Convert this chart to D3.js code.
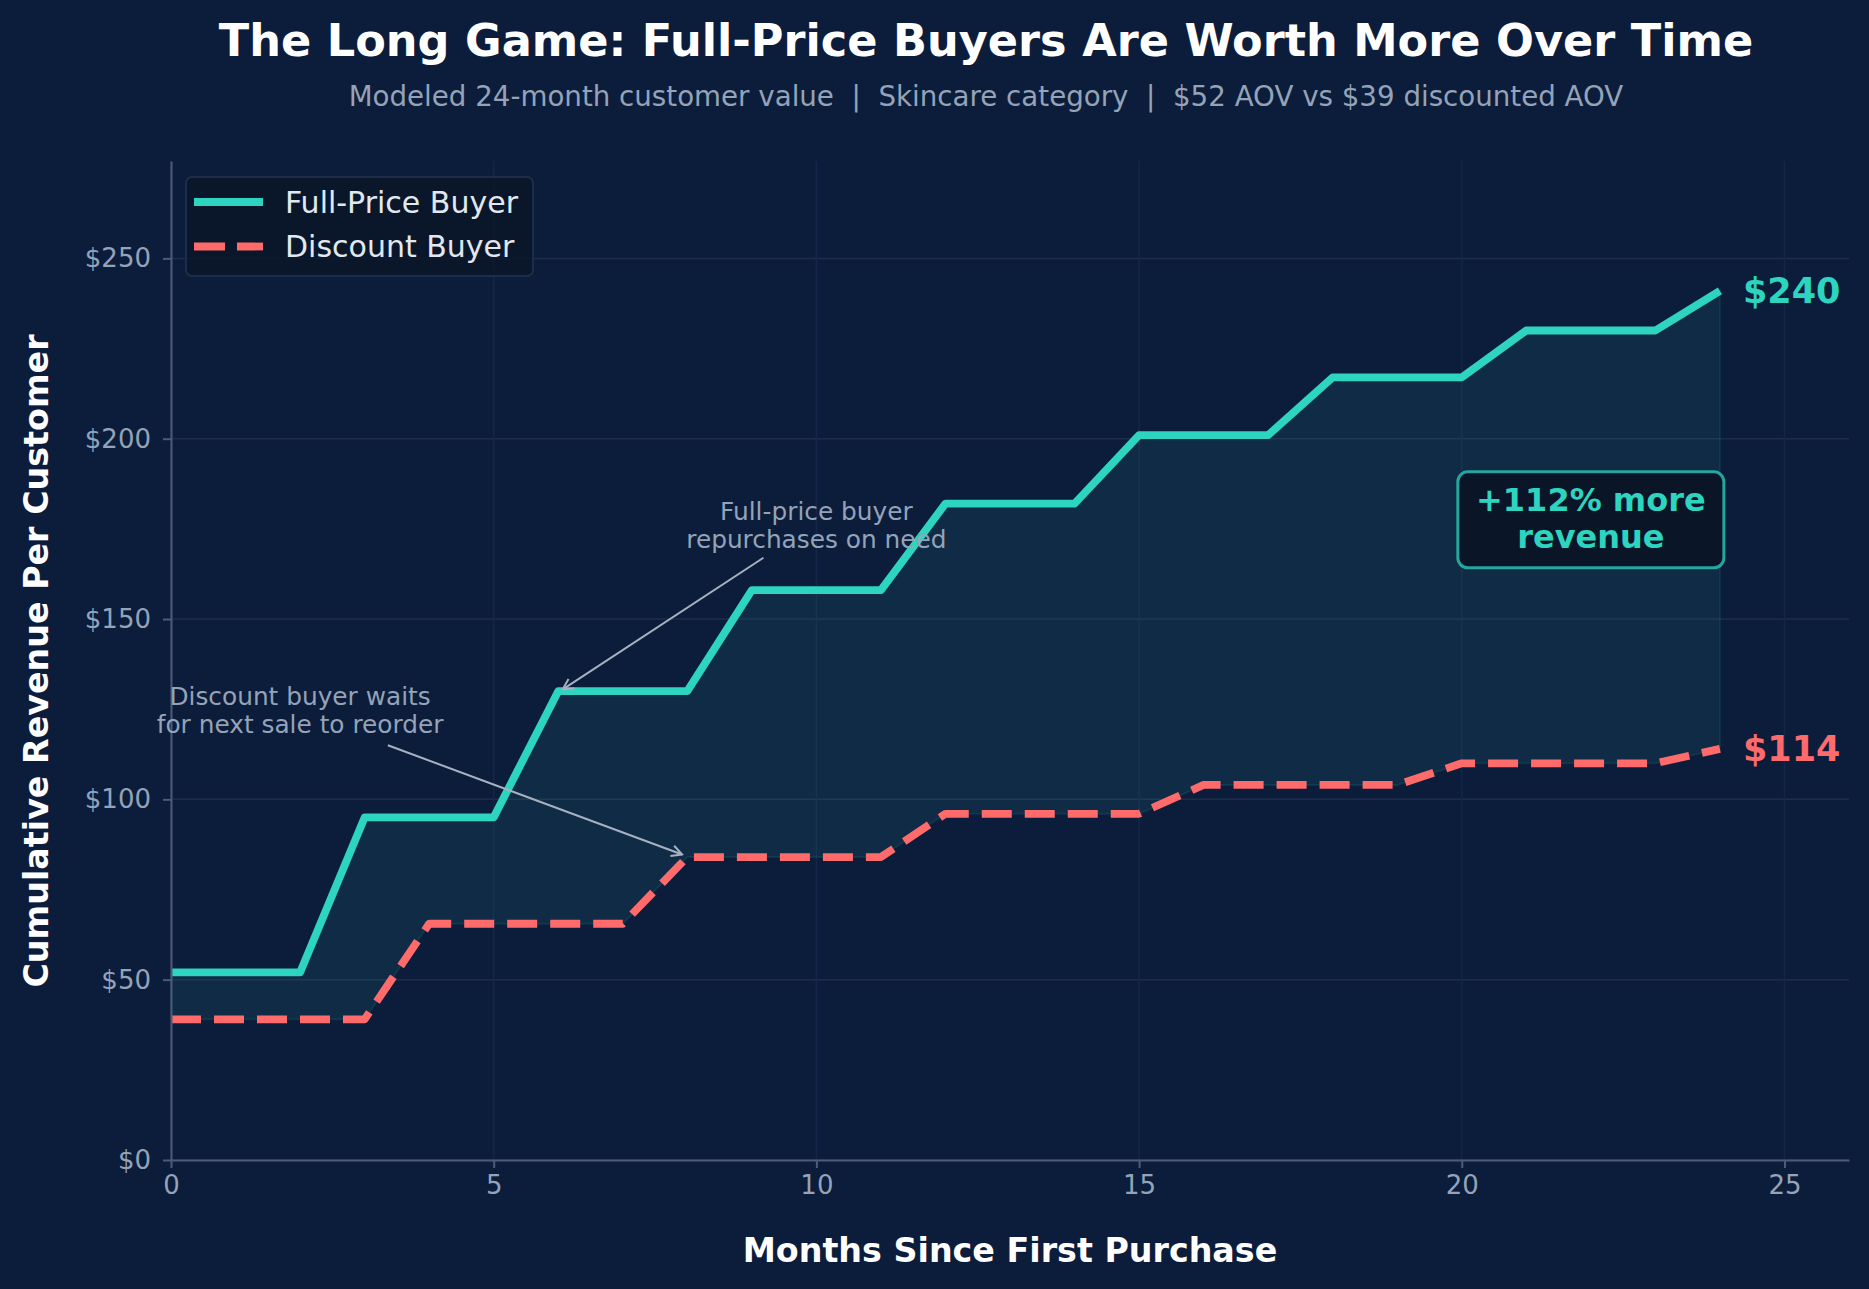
<!DOCTYPE html>
<html>
<head>
<meta charset="utf-8">
<script src="https://cdn.jsdelivr.net/npm/d3@7"></script>
<style>
  body { margin: 0; background: #0c1d3b; }
  svg { display: block; font-family: "DejaVu Sans", sans-serif; }
</style>
</head>
<body>
<script>
const width = 1869;
const height = 1289;
const margin = { top: 161, left: 171, right: 20, bottom: 129 };
const board = {
  width: width - (margin.left + margin.right),
  height: height - (margin.top + margin.bottom),
};

// data
const months = [0, 1, 2, 3, 4, 5, 6, 7, 8, 9, 10, 11, 12, 13, 14, 15, 16, 17, 18, 19, 20, 21, 22, 23, 24];
const fullPrice = [52, 52, 52, 95, 95, 95, 130, 130, 130, 158, 158, 158, 182, 182, 182, 201, 201, 201, 217, 217, 217, 230, 230, 230, 241];
const discount = [39, 39, 39, 39, 65.5, 65.5, 65.5, 65.5, 84, 84, 84, 84, 96, 96, 96, 96, 104, 104, 104, 104, 110, 110, 110, 110, 114];
const endLabels = ['$240', '$114'];
const xTicks = [0, 5, 10, 15, 20, 25];
const yTicks = [0, 50, 100, 150, 200, 250];

const teal = '#2dd4bf';
const red = '#ff6b6b';
const muted = '#94a3b8';
const spine = '#4b5b78';

const rows = months.map((m, i) => ({ m, full: fullPrice[i], disc: discount[i] }));

const root = d3.select('body')
  .append('svg')
    .attr('width', width)
    .attr('height', height);

root.append('rect')
  .attr('width', width)
  .attr('height', height)
  .attr('fill', '#0c1d3b');

const defs = root.append('defs');
defs.append('marker')
    .attr('id', 'arrow')
    .attr('viewBox', '0 0 14 14')
    .attr('refX', 12.5)
    .attr('refY', 7)
    .attr('markerWidth', 14)
    .attr('markerHeight', 14)
    .attr('markerUnits', 'userSpaceOnUse')
    .attr('orient', 'auto')
  .append('path')
    .attr('d', 'M2,1.5 L12.5,7 L2,12.5')
    .attr('fill', 'none')
    .attr('stroke', '#a7b1c2')
    .attr('stroke-width', 2);

const svg = root.append('g')
  .attr('transform', `translate(${margin.left}, ${margin.top})`);

const x = d3.scaleLinear().domain([0, 26]).range([0, board.width]);
const y = d3.scaleLinear().domain([0, 277]).range([board.height, 0]);

// grid
svg.append('g')
  .selectAll('line')
  .data(yTicks)
  .enter()
    .append('line')
    .attr('x1', 0)
    .attr('x2', board.width)
    .attr('y1', (d) => y(d))
    .attr('y2', (d) => y(d))
    .attr('stroke', '#1d2d4b')
    .attr('stroke-width', 1.5);

svg.append('g')
  .selectAll('line')
  .data(xTicks)
  .enter()
    .append('line')
    .attr('x1', (d) => x(d))
    .attr('x2', (d) => x(d))
    .attr('y1', 0)
    .attr('y2', board.height)
    .attr('stroke', '#15264a')
    .attr('stroke-width', 1.5);

// gap between the two buyers
const area = d3.area()
  .x((d) => x(d.m))
  .y0((d) => y(d.disc))
  .y1((d) => y(d.full));

svg.append('path')
  .datum(rows)
  .attr('d', area)
  .attr('fill', teal)
  .attr('fill-opacity', 0.08)
  .attr('stroke', teal)
  .attr('stroke-opacity', 0.1)
  .attr('stroke-width', 2);

const lineFull = d3.line().x((d) => x(d.m)).y((d) => y(d.full));
const lineDisc = d3.line().x((d) => x(d.m)).y((d) => y(d.disc));

svg.append('path')
  .datum(rows)
  .attr('d', lineDisc)
  .attr('fill', 'none')
  .attr('stroke', red)
  .attr('stroke-width', 7.8)
  .attr('stroke-dasharray', '30 13')
  .attr('stroke-linejoin', 'round');

svg.append('path')
  .datum(rows)
  .attr('d', lineFull)
  .attr('fill', 'none')
  .attr('stroke', teal)
  .attr('stroke-width', 7.8)
  .attr('stroke-linejoin', 'round');

// axes
const xAxis = d3.axisBottom(x)
  .tickValues(xTicks)
  .tickSizeInner(8)
  .tickSizeOuter(0)
  .tickPadding(8);

const yAxis = d3.axisLeft(y)
  .tickValues(yTicks)
  .tickSizeInner(8)
  .tickSizeOuter(0)
  .tickPadding(12)
  .tickFormat((d) => '$' + d);

const axes = svg.append('g');

axes.append('g')
  .attr('transform', `translate(0, ${board.height})`)
  .call(xAxis);

axes.append('g')
  .call(yAxis);

axes.selectAll('.domain')
  .attr('stroke', spine)
  .attr('stroke-width', 2);
axes.selectAll('.tick line')
  .attr('stroke', spine)
  .attr('stroke-width', 2);
axes.selectAll('.tick text')
  .attr('fill', muted)
  .attr('font-size', 26)
  .attr('font-family', '"DejaVu Sans", sans-serif');

// end labels
[[fullPrice, teal], [discount, red]].forEach(([series, color], i) => {
  svg.append('text')
    .attr('x', x(months[months.length - 1]) + 23)
    .attr('y', y(series[series.length - 1]))
    .attr('dy', '0.35em')
    .attr('fill', color)
    .attr('font-size', 35)
    .attr('font-weight', 'bold')
    .text(endLabels[i]);
});

// annotations
const notes = [
  { lines: ['Full-price buyer', 'repurchases on need'], tx: 10, ty: 176, from: [9.18, 167], to: [6.07, 130.5] },
  { lines: ['Discount buyer waits', 'for next sale to reorder'], tx: 2, ty: 124.7, from: [3.36, 115], to: [7.92, 84.7] },
];

notes.forEach((n) => {
  const t = svg.append('text')
    .attr('text-anchor', 'middle')
    .attr('fill', muted)
    .attr('font-size', 24.8);
  n.lines.forEach((l, i) => {
    t.append('tspan')
      .attr('x', x(n.tx))
      .attr('y', y(n.ty) + (i - 0.5) * 28.5)
      .attr('dy', '0.35em')
      .text(l);
  });
  svg.append('line')
    .attr('x1', x(n.from[0]))
    .attr('y1', y(n.from[1]))
    .attr('x2', x(n.to[0]))
    .attr('y2', y(n.to[1]))
    .attr('stroke', '#a7b1c2')
    .attr('stroke-width', 2)
    .attr('marker-end', 'url(#arrow)');
});

// callout box
const bx = x(22);
const by = y(177.5);
svg.append('rect')
  .attr('x', bx - 133)
  .attr('y', by - 48)
  .attr('width', 266)
  .attr('height', 96)
  .attr('rx', 10)
  .attr('fill', '#0a1628')
  .attr('stroke', teal)
  .attr('stroke-opacity', 0.75)
  .attr('stroke-width', 3);

const callout = svg.append('text')
  .attr('text-anchor', 'middle')
  .attr('fill', teal)
  .attr('font-size', 32)
  .attr('font-weight', 'bold');
['+112% more', 'revenue'].forEach((l, i) => {
  callout.append('tspan')
    .attr('x', bx)
    .attr('y', by + (i - 0.5) * 37 - 1.5)
    .attr('dy', '0.35em')
    .text(l);
});

// legend
const legend = root.append('g')
  .attr('transform', 'translate(186, 177)');

legend.append('rect')
  .attr('width', 347)
  .attr('height', 99)
  .attr('rx', 6)
  .attr('fill', '#0a1628')
  .attr('fill-opacity', 0.85)
  .attr('stroke', '#1e2d47')
  .attr('stroke-width', 2);

const items = [
  { name: 'Full-Price Buyer', color: teal, dash: null },
  { name: 'Discount Buyer', color: red, dash: '31 12' },
];

items.forEach((d, i) => {
  const yy = 25 + i * 44.5;
  legend.append('line')
    .attr('x1', 8)
    .attr('x2', 77)
    .attr('y1', yy)
    .attr('y2', yy)
    .attr('stroke', d.color)
    .attr('stroke-width', 7.8)
    .attr('stroke-dasharray', d.dash);
  legend.append('text')
    .attr('x', 99)
    .attr('y', yy)
    .attr('dy', '0.35em')
    .attr('fill', '#e2e8f0')
    .attr('font-size', 30)
    .text(d.name);
});

// titles
root.append('text')
  .attr('x', 986)
  .attr('y', 56)
  .attr('text-anchor', 'middle')
  .attr('fill', '#ffffff')
  .attr('font-size', 44.6)
  .attr('font-weight', 'bold')
  .text('The Long Game: Full-Price Buyers Are Worth More Over Time');

root.append('text')
  .attr('x', 986)
  .attr('y', 96)
  .attr('dy', '0.35em')
  .attr('text-anchor', 'middle')
  .attr('fill', muted)
  .attr('font-size', 27.7)
  .attr('xml:space', 'preserve')
  .style('white-space', 'pre')
  .text('Modeled 24-month customer value  |  Skincare category  |  $52 AOV vs $39 discounted AOV');

root.append('text')
  .attr('x', margin.left + board.width / 2)
  .attr('y', 1250)
  .attr('dy', '0.35em')
  .attr('text-anchor', 'middle')
  .attr('fill', '#ffffff')
  .attr('font-size', 33.3)
  .attr('font-weight', 'bold')
  .text('Months Since First Purchase');

root.append('text')
  .attr('transform', 'translate(36, 661) rotate(-90)')
  .attr('dy', '0.35em')
  .attr('text-anchor', 'middle')
  .attr('fill', '#ffffff')
  .attr('font-size', 33.3)
  .attr('font-weight', 'bold')
  .text('Cumulative Revenue Per Customer');
</script>
</body>
</html>
